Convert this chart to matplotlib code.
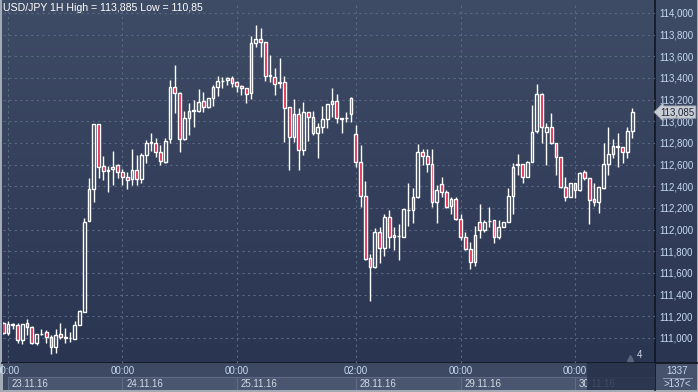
import numpy as np
import matplotlib
matplotlib.use('Agg')
from matplotlib import pyplot as plt
from matplotlib.patches import Rectangle

# USD/JPY 1H candles, 23.11.16 - 30.11.16
opens = [111.135, 111.049, 111.120, 111.117, 110.982, 111.135, 111.105, 110.951, 111.034, 111.052,
         111.012, 110.914, 111.034, 111.006, 111.003, 110.994, 111.123, 111.243, 112.083, 112.372,
         112.972, 112.591, 112.548, 112.557, 112.594, 112.529, 112.483, 112.465, 112.551, 112.465,
         112.689, 112.800, 112.797, 112.713, 112.628, 112.833, 113.313, 113.264, 112.833, 113.027,
         113.098, 113.098, 113.187, 113.129, 113.212, 113.313, 113.372, 113.380, 113.397, 113.360,
         113.326, 113.304, 113.258, 113.720, 113.757, 113.729, 113.420, 113.412, 113.357, 113.360,
         113.129, 112.852, 113.064, 112.735, 113.083, 113.037, 112.889, 112.944, 113.018, 113.157,
         113.187, 113.030, 113.027, 113.064, 112.880, 112.627, 112.313, 111.735, 111.658, 111.975,
         111.833, 112.120, 111.950, 111.940, 111.935, 112.181, 112.181, 112.298, 112.714, 112.680,
         112.606, 112.252, 112.418, 112.344, 112.218, 112.286, 112.095, 111.929, 111.818, 111.700,
         112.067, 111.997, 112.080, 112.089, 111.929, 112.021, 112.074, 112.310, 112.600, 112.604,
         112.490, 112.628, 112.914, 113.253, 112.905, 112.945, 112.797, 112.668, 112.391, 112.305,
         112.428, 112.367, 112.530, 112.474, 112.280, 112.259, 112.382, 112.607, 112.699, 112.765,
         112.760, 112.720, 112.914]
highs = [111.150, 111.160, 111.140, 111.135, 111.130, 111.172, 111.110, 111.034, 111.080, 111.074,
         111.028, 111.080, 111.135, 111.089, 111.058, 111.160, 111.258, 112.105, 112.474, 112.972,
         112.975, 112.680, 112.588, 112.726, 112.610, 112.557, 112.535, 112.742, 112.689, 112.705,
         112.827, 112.889, 112.843, 112.781, 112.843, 113.381, 113.520, 113.270, 113.098, 113.166,
         113.197, 113.295, 113.273, 113.215, 113.335, 113.418, 113.412, 113.406, 113.418, 113.372,
         113.335, 113.304, 113.787, 113.885, 113.858, 113.729, 113.612, 113.489, 113.581, 113.418,
         113.129, 113.203, 113.120, 113.175, 113.083, 113.098, 112.981, 113.141, 113.157, 113.304,
         113.252, 113.030, 113.083, 113.221, 112.966, 112.781, 112.449, 111.775, 112.012, 112.021,
         112.141, 112.181, 112.027, 112.052, 112.190, 112.434, 112.381, 112.790, 112.741, 112.741,
         112.741, 112.412, 112.483, 112.366, 112.298, 112.298, 112.144, 111.981, 111.889, 112.034,
         112.237, 112.089, 112.206, 112.089, 112.089, 112.074, 112.381, 112.618, 112.700, 112.610,
         112.630, 113.151, 113.345, 113.260, 112.982, 113.074, 112.800, 112.670, 112.490, 112.430,
         112.430, 112.536, 112.550, 112.474, 112.428, 112.390, 112.797, 112.951, 112.834, 112.896,
         112.760, 112.951, 113.120]
lows = [111.040, 111.028, 111.080, 110.951, 110.942, 111.028, 110.945, 110.936, 111.028, 110.951,
        110.852, 110.858, 110.988, 110.951, 110.963, 110.990, 111.117, 111.240, 112.080, 112.258,
        112.474, 112.459, 112.351, 112.412, 112.480, 112.412, 112.372, 112.412, 112.412, 112.434,
        112.612, 112.729, 112.673, 112.597, 112.618, 112.803, 113.080, 112.720, 112.830, 112.874,
        112.950, 113.089, 113.089, 113.125, 113.141, 113.233, 113.304, 113.332, 113.313, 113.273,
        113.243, 113.166, 113.203, 113.689, 113.597, 113.375, 113.366, 113.243, 113.304, 112.812,
        112.550, 112.812, 112.550, 112.689, 112.821, 112.874, 112.658, 112.889, 112.935, 113.043,
        112.981, 112.889, 112.997, 112.997, 112.575, 112.206, 111.720, 111.344, 111.643, 111.689,
        111.757, 111.827, 111.812, 111.720, 111.930, 112.034, 112.064, 112.289, 112.597, 112.535,
        112.206, 112.058, 112.298, 112.197, 112.141, 112.089, 111.904, 111.812, 111.640, 111.660,
        111.926, 111.981, 112.021, 111.874, 111.914, 112.020, 112.070, 112.144, 112.505, 112.434,
        112.484, 112.620, 112.890, 112.797, 112.597, 112.790, 112.505, 112.382, 112.268, 112.300,
        112.290, 112.360, 112.460, 112.053, 112.219, 112.151, 112.373, 112.505, 112.660, 112.582,
        112.613, 112.659, 112.843]
closes = [111.050, 111.129, 111.130, 110.982, 111.126, 111.105, 110.951, 111.034, 111.037, 111.006,
          110.914, 111.025, 111.006, 111.003, 111.000, 111.117, 111.249, 112.068, 112.372, 112.972,
          112.582, 112.542, 112.545, 112.582, 112.529, 112.483, 112.459, 112.551, 112.465, 112.689,
          112.803, 112.806, 112.713, 112.634, 112.821, 113.313, 113.264, 112.833, 113.027, 113.095,
          113.101, 113.175, 113.129, 113.212, 113.313, 113.372, 113.375, 113.397, 113.357, 113.326,
          113.304, 113.252, 113.726, 113.757, 113.729, 113.421, 113.424, 113.341, 113.360, 113.120,
          112.852, 113.064, 112.735, 113.083, 113.037, 112.889, 112.944, 113.018, 113.157, 113.187,
          113.027, 113.024, 113.030, 113.212, 112.627, 112.313, 111.729, 111.658, 111.975, 111.833,
          112.120, 111.935, 111.929, 111.943, 112.187, 112.185, 112.298, 112.714, 112.680, 112.606,
          112.252, 112.366, 112.344, 112.206, 112.280, 112.095, 111.929, 111.818, 111.700, 111.950,
          111.997, 112.074, 112.083, 111.929, 112.021, 112.074, 112.310, 112.581, 112.610, 112.490,
          112.628, 112.905, 113.253, 112.945, 112.945, 112.797, 112.668, 112.391, 112.305, 112.428,
          112.367, 112.520, 112.474, 112.274, 112.253, 112.391, 112.607, 112.699, 112.773, 112.768,
          112.720, 112.914, 113.085]

# day boundaries (candle index) with their axis labels
day_idx = [1, 25, 49, 74, 96, 120]
time_labels = ['00:00', '00:00', '00:00', '02:00', '00:00', '00:00']
date_labels = ['23.11.16', '24.11.16', '25.11.16', '28.11.16', '29.11.16', '30.11.16']
price_ticks = np.arange(111.0, 114.001, 0.2)

W, H = 698, 392
XMIN, XMAX = -0.06, 136.8
YMIN, YMAX = 110.769, 114.092
SCROLL_START = 122.5
txt_blue = '#c6d9f2'
red = '#e2173d'

def comma(v, nd=3):
    return ('%.*f' % (nd, v)).replace('.', ',')

plt.rcParams['font.family'] = ['Liberation Sans', 'DejaVu Sans']
fig = plt.figure(figsize=(W / 100, H / 100), dpi=100)
fig.patch.set_facecolor('#a2aab6')

# background in pixel coords
bg = fig.add_axes([0, 0, 1, 1])
bg.set_xlim(0, W)
bg.set_ylim(H, 0)
bg.axis('off')
grad = np.linspace(0, 1, 256)[:, None]
top = np.array([63, 76, 102]) / 255.
bot = np.array([42, 53, 81]) / 255.
img = top[None, None, :] * (1 - grad[..., None]) + bot[None, None, :] * grad[..., None]
bg.imshow(img, extent=[2, W - 1, 363, 0], aspect='auto', zorder=0)
bg.add_patch(Rectangle((655, 363), W - 656, 27, facecolor='#46526b', edgecolor='none', zorder=1))
bg.plot([2, W], [363, 363], color='#10151f', lw=1.2, zorder=5)
bg.plot([655, 655], [0, 390], color='#10151f', lw=1.2, zorder=5)
bg.text(677, 370.5, '1337', color=txt_blue, fontsize=7, ha='center', va='center', zorder=6)
bg.plot([663, 692], [377.5, 377.5], color='#8d9ab0', lw=0.7, zorder=6)
bg.text(677, 384, '>137<', color=txt_blue, fontsize=7, ha='center', va='center', zorder=6)
bg.text(3, 8, 'USD/JPY 1H High = 113,885 Low = 110,85', color='white', fontsize=7.6,
        ha='left', va='center', zorder=6)

# main candle axes
ax = fig.add_axes([3 / W, 1 - 363 / H, 652 / W, 360 / H])
ax.set_facecolor('none')
ax.set_xlim(XMIN, XMAX)
ax.set_ylim(YMIN, YMAX)
for s in ax.spines.values():
    s.set_visible(False)

o = np.array(opens); c = np.array(closes)
h = np.array(highs); l = np.array(lows)
x = np.arange(len(o))
up = c >= o
lo = np.minimum(o, c)
hi = np.maximum(o, c)
hgt = np.maximum(hi - lo, 0.002)

for p in price_ticks:
    ax.axhline(p, color='#5b6883', lw=0.8, dashes=(2, 3), zorder=1)
for d in day_idx:
    ax.axvline(d, color='#5b6883', lw=0.8, dashes=(2, 3), zorder=1)

ax.vlines(x, hi, h, color='white', lw=1.0, zorder=3)
ax.vlines(x, l, lo, color='white', lw=1.0, zorder=3)
ax.bar(x[up], hgt[up], bottom=lo[up], width=0.58, facecolor='none', edgecolor='white', lw=1.0, zorder=4)
ax.bar(x[~up], hgt[~up], bottom=lo[~up], width=0.58, facecolor=red, edgecolor='white', lw=1.0, zorder=4)

ax.set_xticks([])
ax.yaxis.tick_right()
ax.set_yticks(price_ticks)
ax.set_yticklabels([comma(p) for p in price_ticks])
ax.tick_params(axis='y', length=0, pad=3, labelsize=7, labelcolor=txt_blue)

# last price tag
last = closes[-1]
ax.annotate(comma(last), xy=(1.0, last), xycoords=('axes fraction', 'data'),
            xytext=(4, 0), textcoords='offset points', ha='left', va='center',
            fontsize=7, color='#1e2638',
            bbox=dict(boxstyle='larrow,pad=0.12', fc='#c9cdd4', ec='#9aa2ae', lw=0.6),
            annotation_clip=False, zorder=10)

ax.text(133.0, 110.80, '4', color='#d5dbe6', fontsize=7, ha='left', va='bottom')
ax.plot([131.6], [110.818], marker='^', color='#59657d', ms=4, ls='none')

# bottom time/date strip
bx = fig.add_axes([3 / W, 2 / H, 652 / W, 27 / H], sharex=ax)
bx.set_ylim(0, 1)
bx.axis('off')
bx.add_patch(Rectangle((XMIN, 0), XMAX - XMIN, 1, facecolor='#3d4962', edgecolor='none', zorder=0))
edges = day_idx + [XMAX]
for i, d in enumerate(day_idx):
    bx.add_patch(Rectangle((d, 0.0), edges[i + 1] - d, 0.5, facecolor='#4a566f',
                           edgecolor='#5f6b85', lw=0.8, zorder=1))
    bx.text(d, 0.72, time_labels[i], color=txt_blue, fontsize=7, ha='center', va='center', zorder=3)
    bx.text(d + 0.8, 0.22, date_labels[i], color='#d3dae6', fontsize=7, ha='left', va='center', zorder=3)
bx.add_patch(Rectangle((SCROLL_START, 0), XMAX - SCROLL_START, 1, facecolor='#27314a',
                       edgecolor='none', alpha=0.85, zorder=4))
bx.set_xlim(XMIN, XMAX)

fig.savefig('out.png', dpi=100, facecolor=fig.get_facecolor())
